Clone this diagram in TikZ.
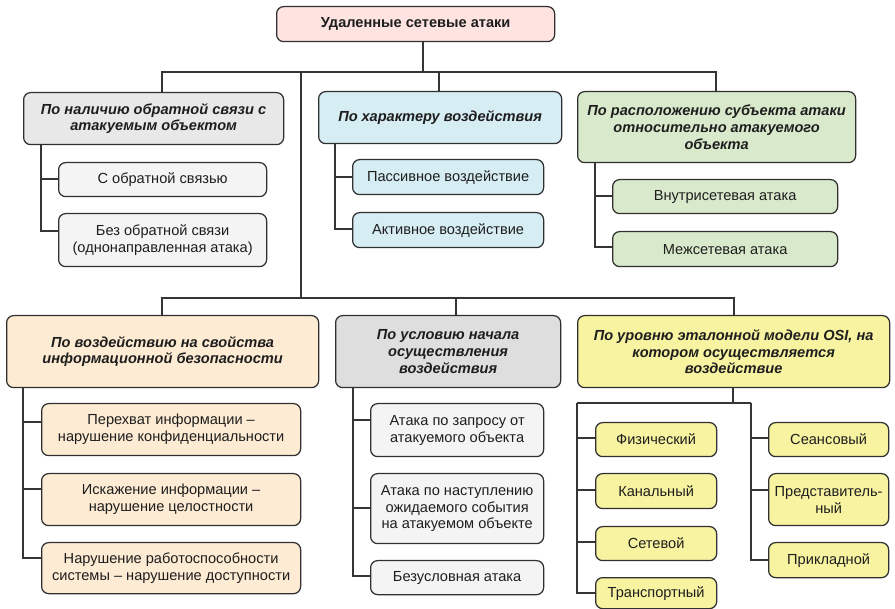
\documentclass[tikz,border=0pt]{standalone}
\usepackage{fontspec}
\setmainfont{Liberation Sans}
\definecolor{boxline}{HTML}{303030}
\definecolor{linec}{HTML}{353535}
\definecolor{textc}{HTML}{1E1E1E}
\definecolor{cpink}{HTML}{FDE4E1}
\definecolor{cgray}{HTML}{E8E8E8}
\definecolor{cgraydk}{HTML}{DEDEDE}
\definecolor{cgraylt}{HTML}{F4F4F4}
\definecolor{cblue}{HTML}{D6EDF4}
\definecolor{cgreen}{HTML}{D9E9CB}
\definecolor{ccream}{HTML}{FDECD3}
\definecolor{cyellow}{HTML}{F7F3A0}
\begin{document}
\begin{tikzpicture}[x=1pt,y=-1pt,
  box/.style={draw=boxline, line width=1.25pt, rounded corners=7pt, anchor=north west,
    inner sep=0pt, align=center, text=textc, font=\fontsize{14.6}{16.8}\selectfont},
  head/.style={box, font=\fontsize{14.6}{16.8}\selectfont\bfseries\itshape},
  link/.style={draw=linec, line width=1.25pt}]
\useasboundingbox (0,0) rectangle (895,609);

% root
\node[box, fill=cpink, minimum width=278pt, minimum height=35pt,
  font=\fontsize{14.6}{16.8}\selectfont\bfseries] (root) at (276,6) {Удаленные сетевые атаки};

% first row of criteria
\node[head, fill=cgray, minimum width=260pt, minimum height=52pt] (A1) at (23,92)
  {По наличию обратной связи с\\атакуемым объектом};
\node[box, fill=cgraylt, minimum width=208pt, minimum height=34pt] (A1a) at (58,162)
  {С обратной связью};
\node[box, fill=cgraylt, minimum width=208pt, minimum height=53pt] (A1b) at (58,213)
  {Без обратной связи\\(однонаправленная атака)};

\node[head, fill=cblue, minimum width=243pt, minimum height=52pt] (A2) at (318,91)
  {По характеру воздействия};
\node[box, fill=cblue, minimum width=191pt, minimum height=35pt] (A2a) at (352,159)
  {Пассивное воздействие};
\node[box, fill=cblue, minimum width=191pt, minimum height=35pt] (A2b) at (352,212)
  {Активное воздействие};

\node[head, fill=cgreen, minimum width=278pt, minimum height=71pt] (A3) at (577,91)
  {По расположению субъекта атаки\\относительно атакуемого\\объекта};
\node[box, fill=cgreen, minimum width=225pt, minimum height=34pt] (A3a) at (612,179)
  {Внутрисетевая атака};
\node[box, fill=cgreen, minimum width=225pt, minimum height=35pt] (A3b) at (612,231)
  {Межсетевая атака};

% second row of criteria
\node[head, fill=ccream, minimum width=312pt, minimum height=72pt] (B1) at (6,315)
  {По воздействию на свойства\\информационной безопасности};
\node[box, fill=ccream, minimum width=259pt, minimum height=52pt] (B1a) at (41,403)
  {Перехват информации --\\нарушение конфиденциальности};
\node[box, fill=ccream, minimum width=259pt, minimum height=52pt] (B1b) at (41,473)
  {Искажение информации --\\нарушение целостности};
\node[box, fill=ccream, minimum width=259pt, minimum height=51pt] (B1c) at (41,542)
  {Нарушение работоспособности\\системы -- нарушение доступности};

\node[head, fill=cgraydk, minimum width=225pt, minimum height=72pt] (B2) at (335,315)
  {По условию начала\\осуществления\\воздействия};
\node[box, fill=cgraylt, minimum width=173pt, minimum height=53pt] (B2a) at (370,403)
  {Атака по запросу от\\атакуемого объекта};
\node[box, fill=cgraylt, minimum width=173pt, minimum height=70pt] (B2b) at (370,473)
  {Атака по наступлению\\ожидаемого события\\на атакуемом объекте};
\node[box, fill=cgraylt, minimum width=173pt, minimum height=34pt] (B2c) at (370,560)
  {Безусловная атака};

\node[head, fill=cyellow, minimum width=312pt, minimum height=72pt] (B3) at (577,315)
  {По уровню эталонной модели OSI, на\\котором осуществляется\\воздействие};
\node[box, fill=cyellow, minimum width=121pt, minimum height=34pt] (L1) at (595,422) {Физический};
\node[box, fill=cyellow, minimum width=121pt, minimum height=35pt] (L2) at (595,473) {Канальный};
\node[box, fill=cyellow, minimum width=121pt, minimum height=34pt] (L3) at (595,526) {Сетевой};
\node[box, fill=cyellow, minimum width=121pt, minimum height=31pt] (L4) at (595,577) {Транспортный};
\node[box, fill=cyellow, minimum width=120pt, minimum height=34pt] (L5) at (768,422) {Сеансовый};
\node[box, fill=cyellow, minimum width=120pt, minimum height=52pt] (L6) at (768,473)
  {Представитель-\\ный};
\node[box, fill=cyellow, minimum width=120pt, minimum height=35pt] (L7) at (768,542) {Прикладной};

% trunk and bars
\coordinate (hub) at (423,72);
\coordinate (barL) at (162,72);
\coordinate (barR) at (716,72);
\coordinate (drop) at (301,72);
\coordinate (lowL) at (162,298);
\coordinate (lowR) at (734,298);
\coordinate (lowM) at (456,298);
\coordinate (dropEnd) at (301,298);
\draw[link] (root.south -| hub) -- (hub);
\draw[link] (A1.north -| barL) -- (barL) -- (barR) -- (A3.north -| barR);
\draw[link] (A2.north -| 439,0) -- (439,72);
\draw[link] (drop) -- (dropEnd);
\draw[link] (B1.north -| lowL) -- (lowL) -- (lowR) -- (B3.north -| lowR);
\draw[link] (lowM) -- (B2.north -| lowM);

% branches of the first row
\coordinate (sA1) at (A1.south -| 41,0);
\draw[link] (sA1) |- (A1a.west |- 0,179);
\draw[link] (sA1) |- (A1b.west |- 0,231);
\coordinate (sA2) at (A2.south -| 335,0);
\draw[link] (sA2) |- (A2a.west |- 0,177);
\draw[link] (sA2) |- (A2b.west |- 0,229);
\coordinate (sA3) at (A3.south -| 595,0);
\draw[link] (sA3) |- (A3a.west |- 0,196);
\draw[link] (sA3) |- (A3b.west |- 0,247);

% branches of the second row
\coordinate (sB1) at (B1.south -| 23,0);
\draw[link] (sB1) |- (B1a.west |- 0,422);
\draw[link] (sB1) |- (B1b.west |- 0,489);
\draw[link] (sB1) |- (B1c.west |- 0,558);
\coordinate (sB2) at (B2.south -| 353,0);
\draw[link] (sB2) |- (B2a.west |- 0,420);
\draw[link] (sB2) |- (B2b.west |- 0,508);
\draw[link] (sB2) |- (B2c.west |- 0,576);

% OSI levels
\coordinate (sB3) at (B3.south -| 733,0);
\coordinate (forkL) at (577,403);
\coordinate (forkR) at (751,403);
\draw[link] (sB3) -- (733,403);
\draw[link] (forkL) -- (forkR);
\draw[link] (forkL) |- (L1.west |- 0,438);
\draw[link] (forkL) |- (L2.west |- 0,490);
\draw[link] (forkL) |- (L3.west |- 0,542);
\draw[link] (forkL) |- (L4.west |- 0,593);
\draw[link] (forkR) |- (L5.west |- 0,438);
\draw[link] (forkR) |- (L6.west |- 0,490);
\draw[link] (forkR) |- (L7.west |- 0,560);
\end{tikzpicture}
\end{document}
